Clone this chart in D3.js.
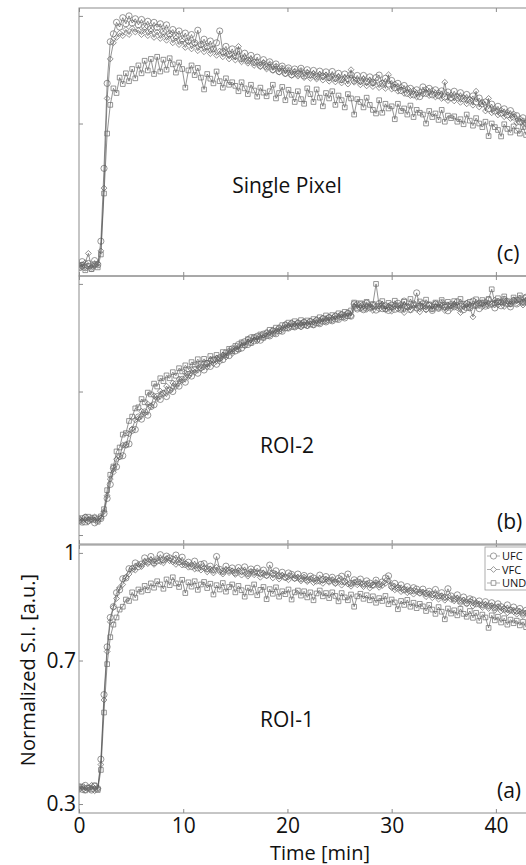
<!DOCTYPE html>
<html>
<head>
<meta charset="utf-8">
<script src="https://cdn.jsdelivr.net/npm/d3@7"></script>
<style>
  body { margin: 0; background: #fff; }
  text { font-family: "Open Sans", "Noto Sans", sans-serif; fill: #111; }
</style>
</head>
<body>
<div id="chart"></div>
<script>
// sample times [min]
var time = [0,0.3,0.6,0.9,1.2,1.5,1.8,2.1,2.4,2.7,
  3,3.3,3.6,3.9,4.2,4.5,4.8,5.1,5.4,5.7,
  6,6.3,6.6,6.9,7.2,7.5,7.8,8.1,8.4,8.7,
  9,9.3,9.6,9.9,10.2,10.5,10.8,11.1,11.4,11.7,
  12,12.3,12.6,12.9,13.2,13.5,13.8,14.1,14.4,14.7,
  15,15.3,15.6,15.9,16.2,16.5,16.8,17.1,17.4,17.7,
  18,18.3,18.6,18.9,19.2,19.5,19.8,20.1,20.4,20.7,
  21,21.3,21.6,21.9,22.2,22.5,22.8,23.1,23.4,23.7,
  24,24.3,24.6,24.9,25.2,25.5,25.8,26.1,26.4,26.7,
  27,27.3,27.6,27.9,28.2,28.5,28.8,29.1,29.4,29.7,
  30,30.3,30.6,30.9,31.2,31.5,31.8,32.1,32.4,32.7,
  33,33.3,33.6,33.9,34.2,34.5,34.8,35.1,35.4,35.7,
  36,36.3,36.6,36.9,37.2,37.5,37.8,38.1,38.4,38.7,
  39,39.3,39.6,39.9,40.2,40.5,40.8,41.1,41.4,41.7,
  42,42.3,42.6,42.9,43.2];

// normalized S.I. x 1000
// (a) ROI-1
var ufcA = [348,341,352,344,339,350,343,425,605,738,
  820,850,889,897,928,930,956,955,972,962,
  969,986,975,990,973,978,995,980,991,986,
  982,994,975,988,968,974,962,977,958,968,
  970,955,963,952,990,954,948,963,951,958,
  945,959,950,961,942,955,946,957,944,952,
  938,966,943,950,936,946,932,944,940,930,
  941,928,937,925,935,930,922,938,926,934,
  923,932,918,929,935,920,941,915,925,919,
  927,913,922,916,910,924,912,919,930,936,
  908,915,902,911,897,906,894,903,899,890,
  899,887,893,884,898,880,889,876,900,880,
  872,883,866,877,861,872,869,858,866,855,
  864,852,861,847,858,850,843,855,840,849,
  838,845,832,840,834];
var vfcA = [340,347,338,345,352,337,344,410,590,725,
  808,848,873,903,912,932,941,958,952,968,
  962,975,970,981,968,985,976,972,984,978,
  975,968,980,966,971,960,968,955,964,952,
  958,947,955,944,960,948,941,953,945,950,
  940,951,938,947,935,949,939,944,932,943,
  936,945,930,940,927,938,931,925,936,928,
  931,922,933,920,928,917,926,921,915,927,
  918,926,914,923,910,920,913,907,918,911,
  915,906,913,902,910,918,904,909,915,922,
  903,897,905,892,900,889,897,885,893,887,
  890,878,887,875,884,871,880,868,877,870,
  866,874,860,869,857,866,852,862,856,848,
  857,845,853,840,850,838,846,833,842,836,
  829,837,825,833,826];
var undA = [343,349,338,346,341,352,339,395,555,690,
  765,800,820,842,850,870,866,890,875,898,
  892,908,896,915,903,921,912,900,926,910,
  932,915,905,925,888,918,906,921,897,912,
  919,902,914,884,910,898,916,892,905,912,
  890,908,896,878,903,890,912,882,897,905,
  871,899,886,904,878,893,885,898,870,890,
  895,881,893,876,890,868,887,895,879,888,
  874,890,880,865,888,876,868,884,850,879,
  886,872,882,868,879,861,874,866,880,857,
  870,862,843,866,855,869,850,861,846,858,
  851,838,855,842,830,849,836,815,845,831,
  840,826,844,830,822,838,819,833,811,828,
  820,791,826,812,822,806,818,800,814,804,
  811,798,808,793,804];

// (b) ROI-2
var ufcB = [342,336,349,340,346,334,344,346,360,402,
  441,486,490,519,521,551,554,592,594,629,
  623,643,634,658,663,686,678,695,686,704,
  700,721,715,734,726,747,743,761,751,767,
  760,778,770,788,776,794,789,808,800,819,
  813,831,821,839,831,850,841,854,843,860,
  862,855,868,861,875,868,885,877,889,880,
  890,882,893,884,895,886,898,889,903,894,
  906,897,910,901,914,905,918,910,944,930,
  942,928,946,933,940,927,945,931,939,926,
  941,929,946,933,952,936,928,944,975,938,
  945,931,940,926,944,932,948,935,925,942,
  936,950,938,928,945,933,952,940,931,947,
  938,955,943,933,950,939,957,945,936,953,
  944,959,948,963,952];
var vfcB = [347,340,351,337,344,350,339,348,366,410,
  456,475,511,518,550,551,582,596,621,625,
  645,639,665,660,688,680,701,695,715,705,
  724,714,735,731,752,742,761,754,773,764,
  778,768,787,778,793,783,802,796,814,806,
  823,815,835,827,846,836,851,841,856,849,
  866,857,872,864,879,871,888,878,892,881,
  893,880,895,883,897,885,901,891,905,896,
  908,899,912,904,916,908,920,911,937,945,
  931,944,929,940,926,938,930,943,928,937,
  924,939,930,943,920,935,928,941,930,922,
  936,927,941,930,945,932,938,926,940,931,
  944,933,920,938,946,934,908,940,948,936,
  950,939,944,955,941,949,937,951,943,956,
  946,953,941,955,948];
var undB = [338,347,335,351,342,349,337,352,372,425,
  468,491,533,544,580,584,618,630,653,656,
  679,670,697,692,722,714,737,729,745,737,
  754,744,765,756,773,762,782,775,790,778,
  791,780,799,789,802,792,810,801,819,812,
  827,818,837,829,846,835,852,845,859,850,
  855,872,861,878,868,885,876,892,880,896,
  883,899,885,898,887,902,890,907,895,912,
  898,913,901,918,907,922,910,926,948,933,
  946,931,950,936,944,1000,939,952,930,947,
  935,953,940,928,950,937,958,942,933,951,
  938,956,943,930,948,936,955,941,950,938,
  952,940,958,944,933,950,939,957,946,955,
  942,958,985,947,960,949,965,952,944,962,
  955,968,950,962,957];

// (c) single pixel
var ufcC = [302,315,298,310,296,318,306,372,575,812,
  928,950,982,969,995,978,1000,980,992,975,
  990,970,985,965,982,968,978,957,975,950,
  962,945,958,936,952,930,948,925,960,920,
  935,915,930,908,925,958,900,915,893,908,
  888,902,880,896,875,890,870,885,862,878,
  858,872,850,866,845,860,840,855,836,852,
  838,854,833,850,835,848,830,846,832,844,
  828,845,826,840,822,838,825,836,820,834,
  818,834,816,830,814,828,835,812,826,810,
  820,800,812,792,806,784,798,780,794,775,
  802,784,798,780,794,778,791,774,788,772,
  790,773,786,769,781,765,777,760,771,755,
  760,741,754,735,748,729,741,724,736,718,
  722,705,716,700,712];
var vfcC = [308,300,312,338,299,304,310,345,520,770,
  880,925,940,952,945,962,948,965,955,960,
  948,962,945,958,940,955,937,950,932,945,
  925,938,920,930,912,928,908,922,903,918,
  900,912,895,908,890,902,886,897,880,892,
  877,915,872,884,868,879,862,872,858,870,
  852,866,848,860,843,855,838,850,834,846,
  832,848,828,843,826,840,824,837,821,835,
  818,833,816,830,813,827,810,850,815,822,
  808,824,805,820,803,817,800,814,798,836,
  796,810,790,803,784,798,778,792,774,788,
  782,796,778,792,774,787,770,815,764,780,
  763,777,759,773,755,768,751,790,746,760,
  735,770,730,742,724,737,719,732,714,727,
  702,714,698,709,694];
var undC = [297,306,291,303,294,308,299,335,505,672,
  752,798,785,828,810,840,818,852,826,862,
  840,875,848,880,838,886,845,878,850,882,
  865,842,870,852,800,848,862,835,855,828,
  795,838,825,812,845,818,800,826,808,815,
  805,790,815,798,782,808,792,775,800,786,
  776,790,808,770,785,802,765,794,780,760,
  790,768,755,798,782,760,795,772,748,785,
  770,790,752,778,765,745,782,770,725,768,
  760,745,772,752,738,728,765,730,755,742,
  748,712,755,735,742,725,750,718,738,730,
  725,700,735,718,728,710,738,705,722,715,
  720,705,712,698,725,708,694,715,700,690,
  705,665,700,690,682,664,698,685,675,692,
  680,672,690,668,685];

var seriesNames = ["UFC", "VFC", "UND"];
var xTicks = [0, 10, 20, 30, 40];
var yTicks = [300, 700, 1000];
var yTickLabels = {300: "0.3", 700: "0.7", 1000: "1"};

var W = 526, H = 865;
var left = 79, plotW = 469, panelH = 268;

var svg = d3.select("#chart").append("svg")
    .attr("width", W)
    .attr("height", H);

var x = d3.scaleLinear().domain([0, 45]).range([left, left + plotW]);

var panels = [
  {id: "c", top: 8, name: "Single Pixel", nameY: 185, tag: "(c)", data: [ufcC, vfcC, undC]},
  {id: "b", top: 276, name: "ROI-2", nameY: 177, tag: "(b)", data: [ufcB, vfcB, undB]},
  {id: "a", top: 545, name: "ROI-1", nameY: 182, tag: "(a)", data: [ufcA, vfcA, undA], last: true}
];

// marker shapes: circle, diamond (rotated square), square
var markers = [
  function(sel) { sel.attr("d", d3.symbol(d3.symbolCircle, 30)); },
  function(sel) { sel.attr("d", d3.symbol(d3.symbolSquare, 17)); },
  function(sel) { sel.attr("d", d3.symbol(d3.symbolSquare, 22)); }
];

var defs = svg.append("defs");

panels.forEach(function(p) {
  var y = d3.scaleLinear().domain([275, 1022]).range([p.top + panelH, p.top]);
  var g = svg.append("g");

  defs.append("clipPath").attr("id", "clip-" + p.id)
    .append("rect")
      .attr("x", left).attr("y", p.top)
      .attr("width", plotW).attr("height", panelH);

  var plot = g.append("g").attr("clip-path", "url(#clip-" + p.id + ")");

  p.data.forEach(function(vals, k) {
    var pts = time.map(function(t, i) { return [t, vals[i]]; });
    var line = d3.line()
        .x(function(d) { return x(d[0]); })
        .y(function(d) { return y(d[1]); });

    plot.append("path")
        .datum(pts)
        .attr("d", line)
        .attr("fill", "none")
        .attr("stroke", "#4a4a4a")
        .attr("stroke-width", 0.6);

    plot.selectAll(".m" + k)
        .data(pts)
      .enter().append("path")
        .attr("class", "m" + k)
        .call(markers[k])
        .attr("transform", function(d) {
          return "translate(" + x(d[0]) + "," + y(d[1]) + ")" + (k == 1 ? " rotate(45)" : "");
        })
        .attr("fill", "none")
        .attr("stroke", "#6a6a6a")
        .attr("stroke-width", 0.7);
  });

  // frame
  g.append("rect")
      .attr("x", left).attr("y", p.top)
      .attr("width", plotW).attr("height", panelH)
      .attr("fill", "none")
      .attr("stroke", "#8c8c8c")
      .attr("stroke-width", 1);

  var yAxis = g.append("g")
      .attr("transform", "translate(" + left + ",0)")
      .call(d3.axisLeft(y).tickValues(yTicks).tickSize(-4).tickSizeOuter(0).tickPadding(3)
        .tickFormat(function(d) { return p.last ? yTickLabels[d] : ""; }));

  var topAxis = g.append("g")
      .attr("transform", "translate(0," + p.top + ")")
      .call(d3.axisTop(x).tickValues(xTicks).tickSize(-4).tickSizeOuter(0).tickFormat(""));

  var botAxis = g.append("g")
      .attr("transform", "translate(0," + (p.top + panelH) + ")")
      .call(d3.axisBottom(x).tickValues(xTicks).tickSize(-4).tickSizeOuter(0).tickPadding(5)
        .tickFormat(function(d) { return p.last ? d : ""; }));

  [yAxis, topAxis, botAxis].forEach(function(a) {
    a.select(".domain").remove();
    a.selectAll(".tick line").attr("stroke", "#8c8c8c");
    a.selectAll(".tick text")
      .style("font-family", "'Open Sans', sans-serif")
      .style("font-size", "21px")
      .attr("fill", "#111");
  });

  g.append("text")
      .attr("x", 287)
      .attr("y", p.top + p.nameY)
      .attr("text-anchor", "middle")
      .style("font-size", "21px")
      .text(p.name);

  g.append("text")
      .attr("x", 497)
      .attr("y", p.top + 253)
      .style("font-size", "21px")
      .text(p.tag);

  if (p.last) {
    var lg = g.append("g").attr("transform", "translate(485," + (p.top + 2) + ")");
    lg.append("rect")
        .attr("width", 60).attr("height", 43)
        .attr("fill", "#fff")
        .attr("stroke", "#9a9a9a")
        .attr("stroke-width", 0.8);
    seriesNames.forEach(function(name, k) {
      var ly = 9 + k * 13.5;
      lg.append("line")
          .attr("x1", 2).attr("x2", 15)
          .attr("y1", ly).attr("y2", ly)
          .attr("stroke", "#777").attr("stroke-width", 0.6);
      lg.append("path")
          .call(markers[k])
          .attr("transform", "translate(8.5," + ly + ")" + (k == 1 ? " rotate(45)" : ""))
          .attr("fill", "#fff")
          .attr("stroke", "#777")
          .attr("stroke-width", 0.7);
      lg.append("text")
          .attr("x", 17)
          .attr("y", ly + 4)
          .style("font-size", "11px")
          .text(name);
    });
  }
});

// axis titles
svg.append("text")
    .attr("x", 320)
    .attr("y", 860)
    .attr("text-anchor", "middle")
    .style("font-size", "20px")
    .text("Time [min]");

svg.append("text")
    .attr("transform", "translate(35,670) rotate(-90)")
    .attr("text-anchor", "middle")
    .style("font-size", "20px")
    .text("Normalized S.I. [a.u.]");
</script>
</body>
</html>
